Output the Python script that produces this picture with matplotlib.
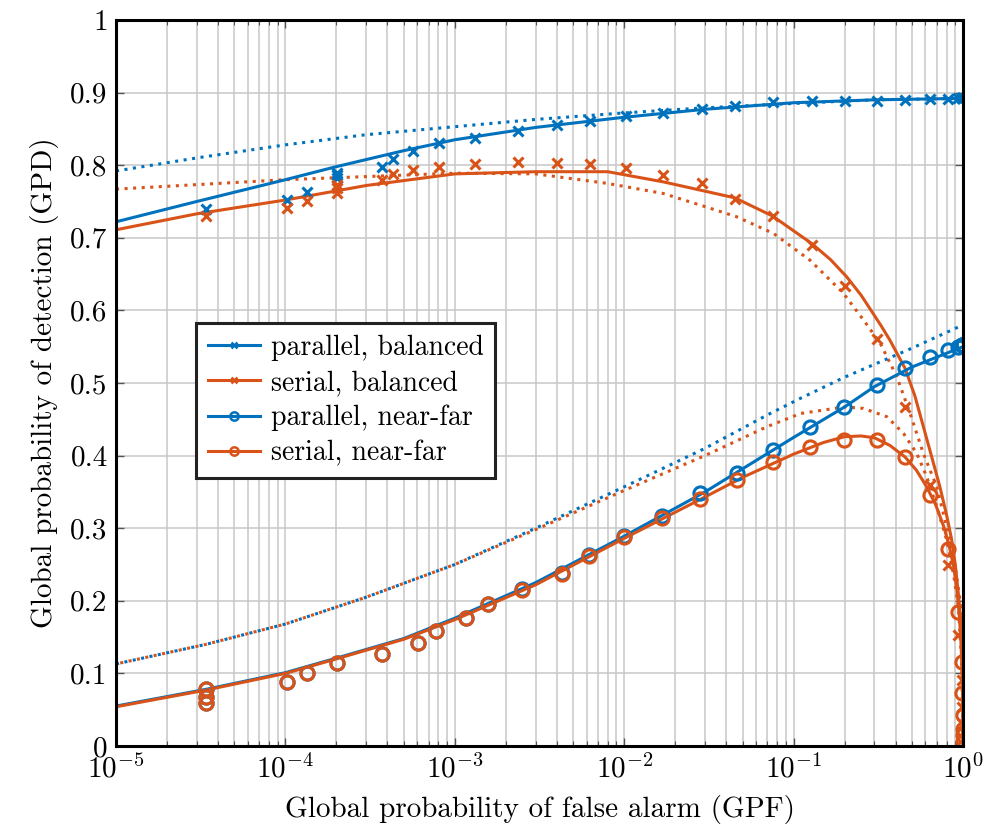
import matplotlib
matplotlib.use("Agg")
import matplotlib.pyplot as plt
from matplotlib.lines import Line2D
from matplotlib.ticker import FixedLocator, LogLocator, NullFormatter

plt.rcParams['font.family'] = 'cmr10'
plt.rcParams['mathtext.fontset'] = 'cm'
plt.rcParams['axes.unicode_minus'] = False
plt.rcParams['font.size'] = 21

blue = '#0072BD'
orange = '#D95319'

# --- analytical curves (solid) ---
par_bal_x = [1e-5, 3e-5, 1e-4, 2e-4, 5e-4, 1e-3, 3e-3, 1e-2, 3e-2, 0.1, 0.3, 1.0]
par_bal_y = [0.722, 0.750, 0.780, 0.798, 0.820, 0.835, 0.852, 0.866, 0.877, 0.886, 0.890, 0.892]

ser_bal_x = [1e-5, 3e-5, 1e-4, 3e-4, 1e-3, 3e-3, 8e-3, 0.017, 0.045, 0.075, 0.128, 0.165,
             0.206, 0.25, 0.294, 0.33, 0.37, 0.455, 0.52, 0.583, 0.65, 0.73, 0.80, 0.857,
             0.90, 0.938, 0.965, 0.98, 0.99, 0.995, 0.999, 1.0]
ser_bal_y = [0.711, 0.733, 0.752, 0.772, 0.788, 0.791, 0.791, 0.777, 0.755, 0.730, 0.692, 0.670,
             0.646, 0.621, 0.596, 0.578, 0.559, 0.520, 0.482, 0.440, 0.400, 0.357, 0.318, 0.284,
             0.250, 0.210, 0.178, 0.150, 0.115, 0.080, 0.030, 0.0]

par_nf_x = [1e-5, 3.4e-5, 1e-4, 2e-4, 5e-4, 1e-3, 3e-3, 1e-2, 3e-2, 0.1, 0.2, 0.3, 0.5, 1.0]
par_nf_y = [0.055, 0.078, 0.101, 0.121, 0.148, 0.176, 0.225, 0.289, 0.350, 0.425, 0.467,
            0.495, 0.522, 0.550]

ser_nf_x = [1e-5, 3.4e-5, 1e-4, 2e-4, 5e-4, 1e-3, 3e-3, 1e-2, 3e-2, 0.05, 0.1, 0.15, 0.2,
            0.25, 0.3, 0.37, 0.455, 0.53, 0.61, 0.69, 0.77, 0.83, 0.88, 0.92, 0.95, 0.97,
            0.985, 0.993, 0.997, 1.0]
ser_nf_y = [0.054, 0.077, 0.100, 0.120, 0.147, 0.174, 0.222, 0.286, 0.343, 0.370, 0.402,
            0.418, 0.426, 0.427, 0.4245, 0.414, 0.398, 0.380, 0.357, 0.332, 0.302, 0.275,
            0.247, 0.215, 0.180, 0.148, 0.110, 0.075, 0.045, 0.0]

# --- approximations (dotted) ---
par_bal_dot_x = [1e-5, 3e-5, 1e-4, 3e-4, 1e-3, 3e-3, 1e-2, 3e-2, 0.1, 0.3, 1.0]
par_bal_dot_y = [0.792, 0.810, 0.828, 0.842, 0.853, 0.863, 0.872, 0.879, 0.885, 0.890, 0.892]

ser_bal_dot_x = [1e-5, 1e-4, 1e-3, 3e-3, 7.9e-3, 0.017, 0.029, 0.046, 0.076, 0.125, 0.196,
                 0.258, 0.324, 0.406, 0.487, 0.583, 0.70, 0.80, 0.898, 0.96, 0.99, 1.0]
ser_bal_dot_y = [0.767, 0.780, 0.789, 0.788, 0.775, 0.761, 0.744, 0.729, 0.706, 0.669, 0.624,
                 0.587, 0.555, 0.509, 0.458, 0.403, 0.357, 0.302, 0.247, 0.201, 0.120, 0.0]

par_nf_dot_x = [1e-5, 3.4e-5, 1e-4, 3e-4, 1e-3, 3e-3, 1e-2, 3e-2, 7e-2, 0.11, 0.2, 0.5, 1.0]
par_nf_dot_y = [0.113, 0.140, 0.168, 0.205, 0.250, 0.300, 0.357, 0.410, 0.456, 0.479, 0.508,
                0.548, 0.580]

ser_nf_dot_x = [1e-5, 3.4e-5, 1e-4, 3e-4, 1e-3, 3e-3, 1e-2, 3e-2, 7e-2, 0.11, 0.2, 0.258,
                0.355, 0.445, 0.533, 0.61, 0.70, 0.80, 0.877, 0.938, 0.98, 1.0]
ser_nf_dot_y = [0.113, 0.140, 0.168, 0.205, 0.250, 0.298, 0.352, 0.400, 0.440, 0.458, 0.467,
                0.465, 0.4535, 0.4306, 0.403, 0.371, 0.3296, 0.284, 0.238, 0.192, 0.120, 0.0]

# --- simulation results (markers) ---
bal_sim_x = [3.39e-5, 1.02e-4, 1.34e-4, 2.01e-4, 2.01e-4, 2.01e-4, 3.7e-4, 4.33e-4, 5.69e-4,
             8.1e-4, 1.32e-3, 2.37e-3, 4.0e-3, 6.3e-3, 0.0102, 0.0169, 0.0287, 0.0451, 0.0753,
             0.128, 0.201, 0.31, 0.455, 0.638, 0.819, 0.938, 0.98, 0.99, 0.995, 0.999]
par_bal_sim = [0.739, 0.752, 0.763, 0.782, 0.786, 0.789, 0.798, 0.809, 0.820,
               0.830, 0.838, 0.847, 0.855, 0.861, 0.868, 0.872, 0.878, 0.882, 0.887,
               0.888, 0.888, 0.889, 0.890, 0.891, 0.891, 0.892, 0.892, 0.892, 0.892, 0.892]
ser_bal_sim = [0.730, 0.7405, 0.751, 0.761, 0.768, 0.773, 0.779, 0.788, 0.793,
               0.798, 0.802, 0.804, 0.803, 0.802, 0.796, 0.786, 0.775, 0.754, 0.730,
               0.690, 0.633, 0.560, 0.467, 0.3595, 0.249, 0.153, 0.091, 0.054, 0.030, 0.010]

nf_sim_x = [3.39e-5, 3.39e-5, 3.39e-5, 1.02e-4, 1.34e-4, 2.01e-4, 3.7e-4, 6.1e-4, 7.74e-4,
            1.17e-3, 1.58e-3, 2.49e-3, 4.3e-3, 6.2e-3, 0.01, 0.0166, 0.028, 0.046, 0.076,
            0.125, 0.197, 0.31, 0.455, 0.638, 0.819, 0.938, 0.98, 0.99, 0.995, 0.998,
            0.999, 1.0]
par_nf_sim = [0.078, 0.067, 0.0597, 0.0886, 0.100, 0.1139, 0.1267, 0.1414, 0.158,
              0.176, 0.1956, 0.216, 0.238, 0.263, 0.289, 0.3168, 0.348, 0.3756, 0.408,
              0.440, 0.467, 0.497, 0.520, 0.536, 0.546, 0.550, 0.552, 0.552, 0.552, 0.552,
              0.552, 0.552]
ser_nf_sim = [0.078, 0.067, 0.0597, 0.0886, 0.100, 0.1139, 0.1267, 0.1414, 0.158,
              0.176, 0.1956, 0.215, 0.237, 0.262, 0.288, 0.3145, 0.340, 0.366, 0.3916,
              0.412, 0.4215, 0.4215, 0.3985, 0.3457, 0.271, 0.185, 0.116, 0.0725, 0.0427,
              0.024, 0.015, 0.005]

fig = plt.figure(figsize=(9.85, 8.32), dpi=100)
ax = fig.add_axes([0.1178, 0.1034, 0.8599, 0.8726])

lw = 2.2
dots = (0, (1, 1.8))

ax.plot(par_bal_dot_x, par_bal_dot_y, color=blue, lw=lw, ls=dots)
ax.plot(ser_bal_dot_x, ser_bal_dot_y, color=orange, lw=lw, ls=dots)
ax.plot(par_nf_dot_x, par_nf_dot_y, color=blue, lw=lw, ls=dots)
ax.plot(ser_nf_dot_x, ser_nf_dot_y, color=orange, lw=lw, ls=(1.4, (1, 1.8)))

ax.plot(par_bal_x, par_bal_y, color=blue, lw=lw)
ax.plot(ser_bal_x, ser_bal_y, color=orange, lw=lw)
ax.plot(par_nf_x, par_nf_y, color=blue, lw=lw)
ax.plot(ser_nf_x, ser_nf_y, color=orange, lw=lw)

ax.plot(bal_sim_x, par_bal_sim, ls='none', marker='x', ms=7, mew=2.2, color=blue)
ax.plot(bal_sim_x, ser_bal_sim, ls='none', marker='x', ms=7, mew=2.2, color=orange)
ax.plot(nf_sim_x, par_nf_sim, ls='none', marker='o', ms=9.5, mew=2.2, mfc='none', color=blue)
ax.plot(nf_sim_x, ser_nf_sim, ls='none', marker='o', ms=9.5, mew=2.2, mfc='none', color=orange)

ax.set_xscale('log')
ax.set_xlim(1e-5, 1)
ax.set_ylim(0, 1)

yt = [0, 0.1, 0.2, 0.3, 0.4, 0.5, 0.6, 0.7, 0.8, 0.9, 1]
ax.yaxis.set_major_locator(FixedLocator(yt))
ax.set_yticklabels(['0', '0.1', '0.2', '0.3', '0.4', '0.5', '0.6', '0.7', '0.8', '0.9', '1'])
ax.xaxis.set_major_locator(FixedLocator([1e-5, 1e-4, 1e-3, 1e-2, 1e-1, 1]))
ax.set_xticklabels([r'$10^{-5}$', r'$10^{-4}$', r'$10^{-3}$', r'$10^{-2}$',
                    r'$10^{-1}$', r'$10^{0}$'])
ax.xaxis.set_minor_locator(LogLocator(base=10, subs=range(2, 10), numticks=20))
ax.xaxis.set_minor_formatter(NullFormatter())

ax.grid(True, which='major', color='#c8c8c8', lw=1.1)
ax.grid(True, which='minor', axis='x', color='#c8c8c8', lw=1.1)
ax.set_axisbelow(True)

ax.tick_params(which='both', direction='in', top=True, right=True, color='#555555')
ax.tick_params(which='major', length=6, width=1, pad=6)
ax.tick_params(which='minor', length=3.5, width=0.8)
for s in ax.spines.values():
    s.set_linewidth(2.2)
    s.set_zorder(5)

ax.set_xlabel('Global probability of false alarm (GPF)', labelpad=8)
ax.set_ylabel('Global probability of detection (GPD)', labelpad=8)

handles = [
    Line2D([], [], color=blue, lw=lw, marker='x', ms=5, mew=1.8),
    Line2D([], [], color=orange, lw=lw, marker='x', ms=5, mew=1.8),
    Line2D([], [], color=blue, lw=lw, marker='o', ms=6, mew=1.8, mfc='none'),
    Line2D([], [], color=orange, lw=lw, marker='o', ms=6, mew=1.8, mfc='none'),
]
labels = ['parallel, balanced', 'serial, balanced', 'parallel, near-far', 'serial, near-far']
leg = ax.legend(handles, labels, loc='upper left', bbox_to_anchor=(0.095, 0.582),
                fancybox=False, framealpha=1, edgecolor='#222222', handlelength=1.9,
                handletextpad=0.4, labelspacing=0.32, borderpad=0.4, borderaxespad=0,
                fontsize=20)
leg.get_frame().set_linewidth(2.2)

fig.savefig('out.png', dpi=100)
